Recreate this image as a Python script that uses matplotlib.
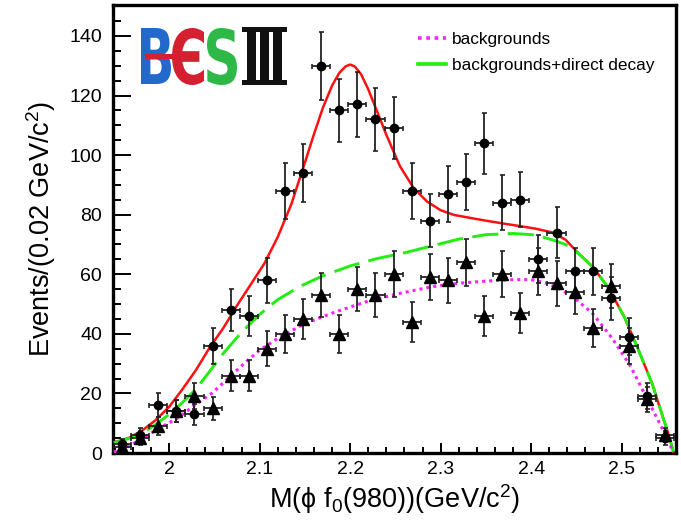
import numpy as np
import matplotlib
matplotlib.use('Agg')
import matplotlib.pyplot as plt
from matplotlib.lines import Line2D
from matplotlib.textpath import TextPath
from matplotlib.patches import PathPatch, Rectangle
from matplotlib.font_manager import FontProperties
from matplotlib.transforms import Affine2D

plt.rcParams['font.family'] = ['Liberation Sans', 'DejaVu Sans']
plt.rcParams['mathtext.fontset'] = 'custom'
plt.rcParams['mathtext.rm'] = 'Liberation Sans'
plt.rcParams['mathtext.it'] = 'Liberation Sans:italic'
plt.rcParams['mathtext.fallback'] = 'stixsans'

# bin centres of M(phi f0(980)), 0.02 GeV wide bins
mass = [1.948, 1.968, 1.988, 2.008, 2.028, 2.048, 2.068, 2.088, 2.108, 2.128,
        2.148, 2.168, 2.188, 2.208, 2.228, 2.248, 2.268, 2.288, 2.308, 2.328,
        2.348, 2.368, 2.388, 2.408, 2.428, 2.448, 2.468, 2.488, 2.508, 2.528,
        2.548]
# data (dots) and sideband / background events (triangles)
data = [3, 6, 16, 14, 13, 36, 48, 46, 58, 88, 94, 130, 115, 117, 112, 109,
        88, 78, 87, 91, 104, 84, 85, 65, 74, 61, 61, 52, 39, 19, 5]
sideband = [2, 5, 9, 14, 19, 15, 26, 26, 35, 40, 45, 53, 40, 55, 53, 60,
            44, 59, 58, 64, 46, 60, 47, 61, 57, 54, 42, 56, 36, 18, 6]

# fit curves
fit_x = [1.939, 1.955, 1.970, 1.985, 2.000, 2.015, 2.030, 2.045, 2.060, 2.075,
         2.090, 2.105, 2.120, 2.135, 2.150, 2.160, 2.170, 2.180, 2.188, 2.195,
         2.200, 2.205, 2.212, 2.220, 2.230, 2.240, 2.255, 2.270, 2.285, 2.300,
         2.315, 2.335, 2.350, 2.370, 2.387, 2.405, 2.424, 2.438, 2.453, 2.468,
         2.486, 2.504, 2.520, 2.534, 2.545, 2.552, 2.557]
fit_total = [3.6, 5.0, 7.5, 11.0, 15.5, 21.5, 28.0, 35.5, 42.0, 49.5,
             56.5, 63.5, 72.5, 83.5, 97.5, 107.0, 116.0, 123.3, 127.6, 129.8,
             130.4, 129.8, 127.2, 122.1, 114.5, 106.8, 96.3, 89.0, 84.4, 81.5,
             79.9, 78.8, 78.0, 77.0, 76.2, 75.3, 74.0, 71.6, 66.8, 62.5,
             55.2, 45.0, 33.5, 23.0, 12.5, 6.0, 0.5]

bkgdir_x = [1.939, 1.955, 1.970, 1.985, 2.000, 2.015, 2.030, 2.045, 2.060, 2.080,
            2.100, 2.120, 2.145, 2.170, 2.200, 2.230, 2.260, 2.290, 2.320, 2.350,
            2.380, 2.405, 2.424, 2.438, 2.453, 2.468, 2.486, 2.504, 2.520, 2.534,
            2.545, 2.552, 2.557]
bkgdir_y = [3.5, 4.8, 6.6, 9.5, 13.0, 17.0, 21.6, 27.5, 33.5, 40.5,
            46.5, 51.5, 56.0, 59.5, 62.8, 65.3, 67.2, 69.5, 71.8, 73.3,
            73.7, 73.2, 71.5, 70.0, 66.8, 62.5, 55.2, 45.0, 33.5, 23.0,
            12.5, 6.0, 0.5]

bkg_x = [1.939, 1.955, 1.974, 1.990, 2.010, 2.030, 2.047, 2.065, 2.083, 2.100,
         2.120, 2.150, 2.185, 2.220, 2.255, 2.290, 2.320, 2.350, 2.380, 2.400,
         2.417, 2.432, 2.446, 2.468, 2.490, 2.510, 2.525, 2.536, 2.548, 2.557]
bkg_y = [0.3, 2.2, 5.5, 8.5, 11.8, 16.5, 20.0, 25.0, 30.1, 34.5,
         38.5, 43.5, 47.5, 51.0, 53.6, 55.8, 57.0, 57.7, 58.2, 58.2,
         57.0, 55.0, 52.5, 46.8, 38.3, 29.0, 20.0, 13.5, 6.3, 0.3]

W, H = 681, 527
fig = plt.figure(figsize=(W / 100, H / 100), dpi=100)
ax = fig.add_axes([113 / W, 1 - 453 / H, (676 - 113) / W, (453 - 5) / H])

ax.plot(fit_x, fit_total, color='#ff1010', lw=1.8, zorder=3)
ax.plot(bkgdir_x, bkgdir_y, color='#22ee11', lw=2.1, dashes=(9, 3.2), zorder=4)
ax.plot(bkg_x, bkg_y, color='#ff22ff', lw=2.2, dashes=(1, 1.3), zorder=4)

xerr = 0.01
ax.errorbar(mass, data, xerr=xerr, yerr=np.sqrt(data), fmt='o', ms=6,
            color='black', ecolor='#222222', elinewidth=1.3, capsize=1.8,
            capthick=1.2, zorder=5)
ax.errorbar(mass, sideband, xerr=xerr, yerr=np.sqrt(sideband), fmt='^', ms=9,
            color='black', ecolor='#222222', elinewidth=1.3, capsize=1.8,
            capthick=1.2, zorder=5)

ax.set_xlim(1.938, 2.558)
ax.set_ylim(0, 150.4)
ax.set_xticks([2.0, 2.1, 2.2, 2.3, 2.4, 2.5])
ax.set_xticklabels(['2', '2.1', '2.2', '2.3', '2.4', '2.5'])
ax.set_xticks(np.arange(1.94, 2.56, 0.02), minor=True)
ax.set_yticks(range(0, 141, 20))
ax.set_yticks(range(0, 151, 5), minor=True)
ax.tick_params(axis='both', which='both', direction='in', width=1.4,
               labelsize=14, top=False, right=False)
ax.tick_params(axis='y', which='major', length=13, pad=8)
ax.tick_params(axis='y', which='minor', length=6)
ax.tick_params(axis='x', which='major', length=7, pad=6)
ax.tick_params(axis='x', which='minor', length=4)
for s in ax.spines.values():
    s.set_linewidth(2.4)

ax.set_xlabel(r'M($\mathrm{\phi}$ f$_{0}$(980))(GeV/c$^{2}$)', fontsize=19.5,
              labelpad=3)
ax.set_ylabel(r'Events/(0.02 GeV/c$^{2}$)', fontsize=19.5, labelpad=8)

handles = [Line2D([], [], color='#ff22ff', lw=2.6, dashes=(1, 1.3)),
           Line2D([], [], color='#22ee11', lw=2.6)]
ax.legend(handles, ['backgrounds', 'backgrounds+direct decay'],
          loc='upper left', bbox_to_anchor=(0.542, 0.94), frameon=False,
          fontsize=12.4, handlelength=1.6, handletextpad=0.35,
          labelspacing=0.62, borderpad=0, borderaxespad=0)


# BESIII logo drawn from glyph outlines, boxes given in pixel coordinates
def glyph(text, box, color, fp):
    x0, y0, x1, y1 = box
    path = TextPath((0, 0), text, size=100, prop=fp)
    ext = path.get_extents()
    tr = (Affine2D().translate(-ext.x0, -ext.y0)
          .scale((x1 - x0) / ext.width, (y1 - y0) / ext.height)
          .translate(x0, H - y1).scale(1 / fig.dpi) + fig.dpi_scale_trans)
    fig.add_artist(PathPatch(path, transform=tr, facecolor=color, lw=0,
                             zorder=10))


bold = FontProperties(family='DejaVu Sans', weight='bold')
serif = FontProperties(family='DejaVu Serif', weight='bold')
glyph('B', (141, 28, 171, 84), '#2468cc', bold)
glyph('Є', (172, 28, 204, 85), '#d42030', bold)
glyph('S', (207, 28, 237, 85), '#2db848', bold)
glyph('Ⅲ', (242, 27, 287, 85), '#111111', serif)
fig.add_artist(Rectangle((145 / fig.dpi, (H - 59) / fig.dpi), 52 / fig.dpi,
                         5 / fig.dpi, transform=fig.dpi_scale_trans,
                         facecolor='#d42030', lw=0, zorder=11))

fig.savefig('out.png', dpi=100)
